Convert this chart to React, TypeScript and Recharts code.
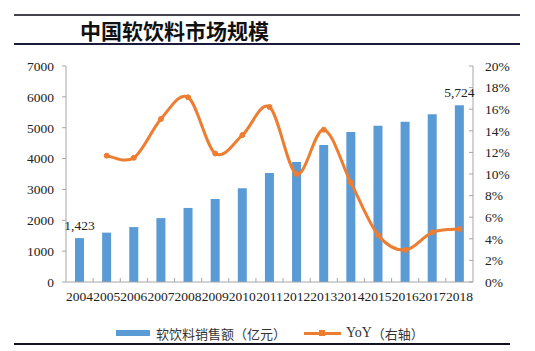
import { ComposedChart, Bar, Line, XAxis, YAxis, LabelList } from "recharts";

const years = ["2004", "2005", "2006", "2007", "2008", "2009", "2010", "2011", "2012", "2013", "2014", "2015", "2016", "2017", "2018"];
const sales = [1423, 1600, 1780, 2070, 2400, 2690, 3040, 3530, 3890, 4440, 4860, 5060, 5190, 5440, 5724];
const yoy = [null, 0.117, 0.115, 0.151, 0.171, 0.119, 0.136, 0.162, 0.1, 0.141, 0.092, 0.0435, 0.0296, 0.046, 0.049];
const leftTicks = [0, 1000, 2000, 3000, 4000, 5000, 6000, 7000];
const rightTicks = [0, 0.02, 0.04, 0.06, 0.08, 0.1, 0.12, 0.14, 0.16, 0.18, 0.2];

const data = years.map((y, i) => ({ year: y, sales: sales[i], yoy: yoy[i] }));

const serif = "'Liberation Serif', 'Times New Roman', serif";
const cjk = "'Noto Sans CJK SC', sans-serif";
const BLUE = "#5B9BD5";
const ORANGE = "#ED7D31";
const AXIS = "#A6A6A6";

const W = 535;
const H = 351;
const LEFT_W = 66;
const RIGHT_W = 62;
const TOP = 66;
const BOTTOM = 69;
const band = (W - LEFT_W - RIGHT_W) / years.length;

// catmull-rom style smoothing, closer to Excel's smoothed line than monotone
function smooth(context: any) {
  let pts: number[][] = [];
  return {
    areaStart() {},
    areaEnd() {},
    lineStart() {
      pts = [];
    },
    lineEnd() {
      const n = pts.length;
      if (!n) return;
      context.moveTo(pts[0][0], pts[0][1]);
      for (let i = 0; i < n - 1; i++) {
        const p0 = pts[i - 1] || pts[i];
        const p1 = pts[i];
        const p2 = pts[i + 1];
        const p3 = pts[i + 2] || pts[i + 1];
        context.bezierCurveTo(
          p1[0] + (p2[0] - p0[0]) / 6,
          p1[1] + (p2[1] - p0[1]) / 6,
          p2[0] - (p3[0] - p1[0]) / 6,
          p2[1] - (p3[1] - p1[1]) / 6,
          p2[0],
          p2[1]
        );
      }
    },
    point(x: number, y: number) {
      pts.push([+x, +y]);
    },
  };
}

function YearTick({ x, y, payload, index }: any) {
  return (
    <g>
      {index < years.length - 1 && (
        <line x1={x + band / 2} x2={x + band / 2} y1={y} y2={y - 4} stroke={AXIS} />
      )}
      <text x={x} y={y + 19} textAnchor="middle" fontFamily={serif} fontSize={13.5} fill="#222">
        {payload.value}
      </text>
    </g>
  );
}

function EndLabel({ x, y, width, value, index }: any) {
  if (index !== 0 && index !== years.length - 1) return null;
  return (
    <text x={x + width / 2} y={y - 8} textAnchor="middle" fontFamily={serif} fontSize={13.5} fill="#222">
      {Number(value).toLocaleString("en-US")}
    </text>
  );
}

function LegendBox() {
  return (
    <div
      style={{
        position: "absolute",
        left: 116,
        top: 323,
        display: "flex",
        alignItems: "center",
        fontSize: 13,
        color: "#333",
        height: 20,
        whiteSpace: "nowrap",
      }}
    >
      <span style={{ display: "inline-block", width: 34, height: 6, background: BLUE, marginRight: 6 }} />
      <span style={{ fontFamily: cjk }}>软饮料销售额（亿元）</span>
      <span style={{ position: "relative", display: "inline-block", width: 37, height: 3, background: ORANGE, marginLeft: 18, marginRight: 5 }}>
        <span style={{ position: "absolute", left: 15, top: -2, width: 6, height: 6, background: ORANGE }} />
      </span>
      <span style={{ fontFamily: serif, fontSize: 14 }}>YoY</span>
      <span style={{ fontFamily: cjk }}>（右轴）</span>
    </div>
  );
}

export default function App() {
  return (
    <div style={{ position: "absolute", left: 0, top: 0, width: W, height: H, background: "#fff", overflow: "hidden" }}>
      <div style={{ position: "absolute", left: 14, top: 14, width: 506, height: 2, background: "#44444f" }} />
      <div
        style={{
          position: "absolute",
          left: 80,
          top: 17,
          fontFamily: cjk,
          fontWeight: 700,
          fontSize: 21,
          lineHeight: "26px",
          color: "#111",
        }}
      >
        中国软饮料市场规模
      </div>
      <div style={{ position: "absolute", left: 14, top: 43, width: 506, height: 2, background: "#1a1a3c" }} />
      <div style={{ position: "absolute", left: 14, top: 343, width: 496, height: 2, background: "#121220" }} />
      <LegendBox />
      <ComposedChart width={W} height={H} data={data} margin={{ top: TOP, right: 0, left: 0, bottom: 0 }}>
        <XAxis
          dataKey="year"
          tick={<YearTick />}
          tickLine={false}
          tickSize={0}
          tickMargin={0}
          interval={0}
          axisLine={{ stroke: AXIS }}
          height={BOTTOM}
        />
        <YAxis
          yAxisId="left"
          domain={[0, 7000]}
          ticks={leftTicks}
          interval={0}
          width={LEFT_W}
          tickSize={4}
          tickMargin={8}
          tickLine={{ stroke: AXIS }}
          axisLine={{ stroke: AXIS }}
          tick={{ fill: "#222", fontSize: 13.5, fontFamily: serif }}
        />
        <YAxis
          yAxisId="right"
          orientation="right"
          domain={[0, 0.2]}
          ticks={rightTicks}
          interval={0}
          width={RIGHT_W}
          tickSize={-4}
          tickMargin={16}
          tickLine={{ stroke: AXIS }}
          axisLine={{ stroke: AXIS }}
          tickFormatter={(v: number) => `${Math.round(v * 100)}%`}
          tick={{ fill: "#222", fontSize: 13.5, fontFamily: serif }}
        />
        <Bar yAxisId="left" dataKey="sales" fill={BLUE} barSize={9} isAnimationActive={false}>
          <LabelList dataKey="sales" content={<EndLabel />} />
        </Bar>
        <Line
          yAxisId="right"
          dataKey="yoy"
          type={smooth as any}
          stroke={ORANGE}
          strokeWidth={3}
          dot={{ r: 2.5, fill: ORANGE, stroke: ORANGE, strokeWidth: 1 }}
          activeDot={false}
          isAnimationActive={false}
        />
      </ComposedChart>
    </div>
  );
}
